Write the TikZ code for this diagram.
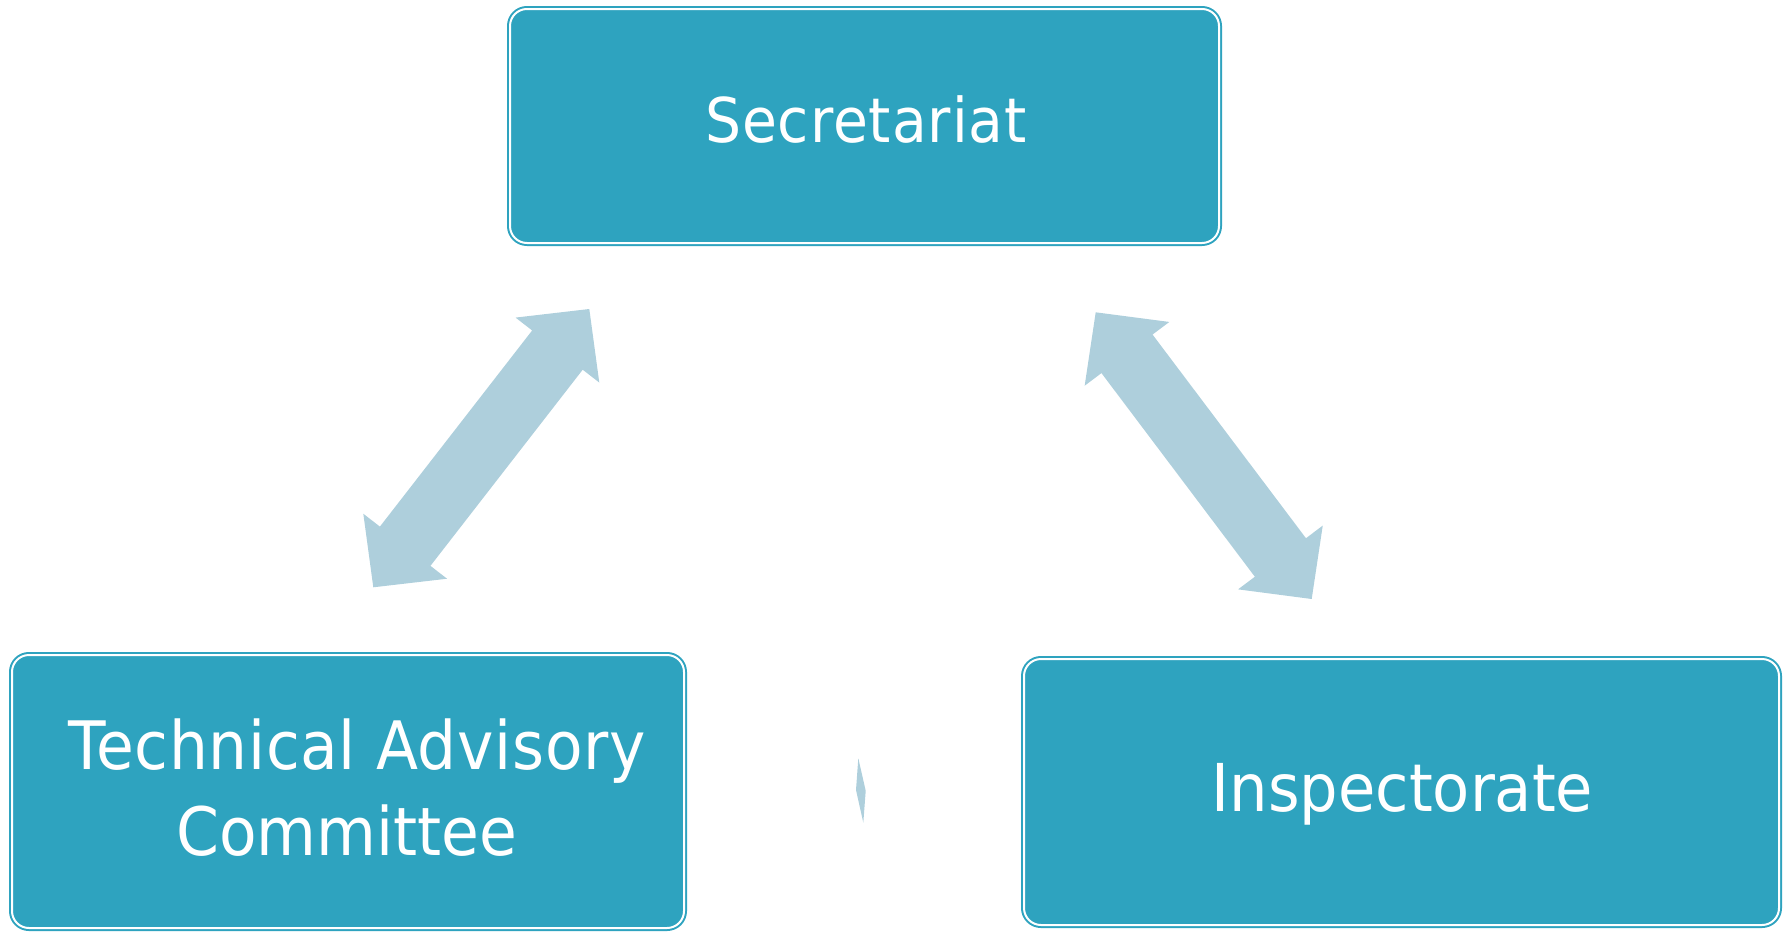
\documentclass[tikz,border=0pt]{standalone}
\usepackage{fontspec}
\usetikzlibrary{calc}
\newfontfamily\boxfont{DejaVu Sans}[FakeStretch=0.92]
\newfontfamily\secfont{DejaVu Sans}[FakeStretch=0.92,LetterSpace=1.5]
\newfontfamily\tacfont{DejaVu Sans}[FakeStretch=0.92,LetterSpace=1]
\definecolor{boxteal}{RGB}{46,163,191}
\definecolor{arrowblue}{RGB}{174,207,220}
\newcommand\dblarrow[2]{%
  \fill[arrowblue] (#1)
    -- ($(#1)!52pt!(#2)!53pt!90:(#2)$)
    -- ($(#1)!52pt!(#2)!32pt!90:(#2)$)
    -- ($(#2)!52pt!(#1)!32pt!-90:(#1)$)
    -- ($(#2)!52pt!(#1)!53pt!-90:(#1)$)
    -- (#2)
    -- ($(#2)!52pt!(#1)!53pt!90:(#1)$)
    -- ($(#2)!52pt!(#1)!32pt!90:(#1)$)
    -- ($(#1)!52pt!(#2)!32pt!-90:(#2)$)
    -- ($(#1)!52pt!(#2)!53pt!-90:(#2)$)
    -- cycle;}
\tikzset{
  unitbox/.style={rectangle, rounded corners=17pt, fill=boxteal, draw=boxteal,
    line width=2pt, double=white, double distance=2pt, inner sep=0pt, outer sep=0pt},
  lbl/.style={text=white, inner sep=0pt, outer sep=0pt, anchor=base}
}
\begin{document}
\begin{tikzpicture}[x=1pt,y=-1pt]
\useasboundingbox (0,0) rectangle (1783,932);
% boxes
\node[unitbox, minimum width=709pt, minimum height=234pt] (sec) at (864.5,126) {};
\node[unitbox, minimum width=672pt, minimum height=273pt] (tac) at (348,791.5) {};
\node[unitbox, minimum width=755pt, minimum height=266pt] (insp) at (1401.5,792) {};
% labels
\node[lbl, font=\secfont\fontsize{61.7}{74}\selectfont] (sect) at (866,142) {Secretariat};
\node[lbl, font=\tacfont\fontsize{66.8}{89}\selectfont] (tact1) at (357,769) {Technical Advisory};
\node[lbl, font=\boxfont\fontsize{66.8}{89}\selectfont] (tact2) at (347,855) {Committee};
\node[lbl, font=\boxfont\fontsize{66}{80}\selectfont] (inspt) at (1402.5,811) {Inspectorate};
% arrows
\coordinate (tacEnd) at (373.3,587.3);
\coordinate (secEndL) at (589.3,309);
\coordinate (secEndR) at (1095.7,312.3);
\coordinate (inspEnd) at (1311.7,599);
\dblarrow{tacEnd}{secEndL}
\dblarrow{inspEnd}{secEndR}
% small collapsed arrow between the lower boxes
\fill[arrowblue] (858.3,758.3) -- (865.7,790.7) -- (863.3,822.7) -- (856,790) -- cycle;
\end{tikzpicture}
\end{document}
